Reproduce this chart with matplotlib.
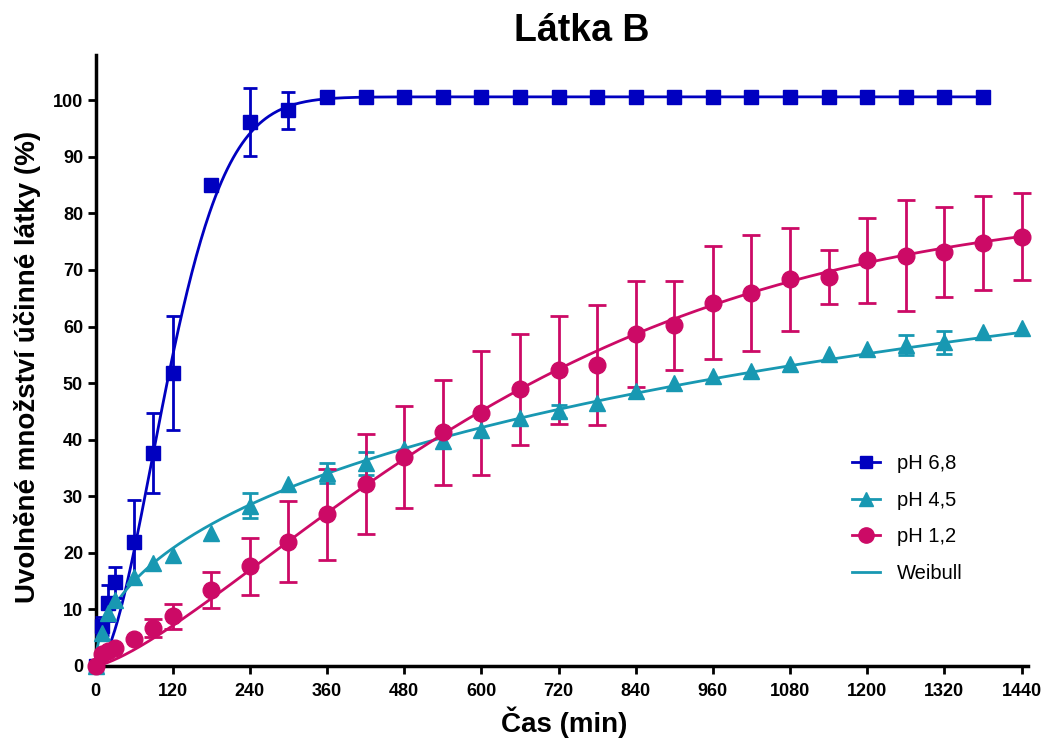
import numpy as np
import matplotlib
matplotlib.use("Agg")
import matplotlib.pyplot as plt
from matplotlib.lines import Line2D

plt.rcParams['font.family'] = ['Liberation Sans', 'DejaVu Sans']

# ---- data ----
t_68 = [0, 10, 20, 30, 60, 90, 120, 180, 240, 300, 360, 420, 480, 540, 600, 660, 720,
        780, 840, 900, 960, 1020, 1080, 1140, 1200, 1260, 1320, 1380]
y_68 = [0, 7.0, 11.1, 14.8, 22.0, 37.6, 51.8, 85.0, 96.1, 98.2, 100.5, 100.5, 100.5, 100.5,
        100.5, 100.5, 100.5, 100.5, 100.5, 100.5, 100.5, 100.5, 100.5, 100.5, 100.5, 100.5,
        100.5, 100.5]
sd_68 = [0, 1.6, 3.2, 2.7, 7.3, 7.1, 10.0, 0, 6.0, 3.2, 0, 0, 0, 0, 0, 0, 0, 0, 0, 0, 0, 0,
         0, 0, 0, 0, 0, 0]

t_45 = [0, 10, 20, 30, 60, 90, 120, 180, 240, 300, 360, 420, 480, 540, 600, 660, 720, 780,
        840, 900, 960, 1020, 1080, 1140, 1200, 1260, 1320, 1380, 1440]
y_45 = [0, 5.9, 9.3, 11.7, 15.8, 18.2, 19.6, 23.5, 28.3, 32.1, 34.1, 35.8, 38.3, 39.7, 41.8,
        43.8, 45.0, 46.5, 48.6, 50.1, 51.3, 52.2, 53.4, 55.1, 56.1, 56.7, 57.2, 59.0, 59.7]
sd_45 = [0, 0, 0, 0, 0, 0, 0, 0, 2.2, 0, 1.8, 2.0, 0, 0, 0, 0, 1.2, 0, 0, 0, 0, 0, 0, 0, 0,
         1.8, 2.0, 0, 0]

t_12 = [0, 10, 20, 30, 60, 90, 120, 180, 240, 300, 360, 420, 480, 540, 600, 660, 720, 780,
        840, 900, 960, 1020, 1080, 1140, 1200, 1260, 1320, 1380, 1440]
y_12 = [0, 2.1, 2.7, 3.1, 4.7, 6.7, 8.8, 13.4, 17.6, 22.0, 26.8, 32.2, 36.9, 41.3, 44.7,
        48.9, 52.3, 53.2, 58.7, 60.2, 64.2, 65.9, 68.4, 68.7, 71.7, 72.5, 73.2, 74.8, 75.9]
sd_12 = [0, 0, 0, 0, 0, 1.6, 2.2, 3.2, 5.1, 7.2, 8.0, 8.8, 9.0, 9.3, 10.9, 9.8, 9.6, 10.6,
         9.3, 7.9, 10.0, 10.3, 9.1, 4.8, 7.5, 9.8, 8.0, 8.3, 7.7]

# Weibull model parameters (Fmax, scale a, shape b)
weib_68 = (100.6, 137.0, 1.8)
weib_45 = (120.0, 3101.0, 0.51)
weib_12 = (82.0, 709.0, 1.35)

labels = ["pH 6,8", "pH 4,5", "pH 1,2", "Weibull"]
xticks = [0, 120, 240, 360, 480, 600, 720, 840, 960, 1080, 1200, 1320, 1440]
yticks = [0, 10, 20, 30, 40, 50, 60, 70, 80, 90, 100]

c_68 = "#0000C0"
c_45 = "#1898B2"
c_12 = "#CC0A66"


def weibull(t, p):
    fmax, a, b = p
    return fmax * (1 - np.exp(-(t / a) ** b))


W, H = 1046, 742
fig = plt.figure(figsize=(W / 100, H / 100), dpi=100)
ax = fig.add_axes([95.5 / W, (H - 666) / H, 932.5 / W, 611 / H])
ax.set_xlim(0, 1450)
ax.set_ylim(0, 108)

series = [
    (t_68, y_68, sd_68, weib_68, c_68, 's', 9.5, 4.8, 1380),
    (t_45, y_45, sd_45, weib_45, c_45, '^', 11, 5.5, 1440),
    (t_12, y_12, sd_12, weib_12, c_12, 'o', 12, 6.5, 1440),
]

for t, y, sd, p, c, m, ms, cap, tend in series:
    t = np.asarray(t, float)
    y = np.asarray(y, float)
    sd = np.asarray(sd, float)
    tt = np.linspace(0, tend, 600)
    ax.plot(tt, weibull(tt, p), color=c, lw=2.0, zorder=3, clip_on=False)
    mask = sd > 0
    ax.errorbar(t[mask], y[mask], yerr=sd[mask], fmt='none', ecolor=c, elinewidth=2.0,
                capsize=cap, capthick=2.0, zorder=4, clip_on=False)
    ax.plot(t, y, ls='none', marker=m, ms=ms, color=c, mec=c, zorder=5, clip_on=False)

for s in ['top', 'right']:
    ax.spines[s].set_visible(False)
for s in ['left', 'bottom']:
    ax.spines[s].set_linewidth(2.5)

ax.set_xticks(xticks)
ax.set_yticks(yticks)
ax.tick_params(axis='both', width=2.0, length=6, direction='out')
ax.tick_params(axis='x', pad=6.5)
ax.tick_params(axis='y', pad=3)
for lab in ax.get_xticklabels() + ax.get_yticklabels():
    lab.set_fontweight('bold')
    lab.set_fontsize(13)

fig.text(582 / W, 1 - 31 / H, "Látka B", ha='center', va='center', fontsize=27,
         fontweight='bold')
fig.text(564 / W, 1 - 722 / H, "Čas (min)", ha='center', va='center', fontsize=20,
         fontweight='bold')
fig.text(28 / W, 1 - 367 / H, "Uvolněné množství účinné látky (%)", ha='center',
         va='center', rotation=90, fontsize=20, fontweight='bold')

handles = [
    Line2D([], [], color=c_68, marker='s', ms=8, lw=2.0),
    Line2D([], [], color=c_45, marker='^', ms=10, lw=2.0),
    Line2D([], [], color=c_12, marker='o', ms=11, lw=2.0),
    Line2D([], [], color=c_45, lw=2.0),
]
leg = fig.legend(handles, labels, loc='upper left', bbox_to_anchor=(852 / W, 1 - 454 / H),
                 frameon=False, fontsize=14.5, handlelength=1.4, handletextpad=0.85,
                 labelspacing=0.88, borderpad=0, borderaxespad=0)

fig.savefig("out.png", dpi=100)
